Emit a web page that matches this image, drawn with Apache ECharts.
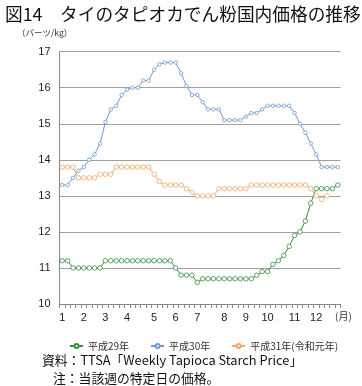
<!DOCTYPE html>
<html>
<head>
<meta charset="utf-8">
<script src="https://cdn.jsdelivr.net/npm/echarts@6/dist/echarts.min.js"></script>
<style>
html,body{margin:0;padding:0;background:#fff;}
#c{width:362px;height:386px;}
</style>
</head>
<body>
<div id="c"></div>
<script>
// weekly categories (52 weeks)
const weeks = Array.from({length: 52}, (_, i) => 'W' + (i + 1));
// week index where each month label is shown
const monthWeekIdx = [0, 4, 8, 12, 17, 21, 25, 30, 34, 38, 43, 47];
const monthLabels = ['1','2','3','4','5','6','7','8','9','10','11','12'];
const yTicks = [10, 11, 12, 13, 14, 15, 16, 17];

const h29 = [11.2,11.2,11.0,11.0,11.0,11.0,11.0,11.0,
  11.2,11.2,11.2,11.2,11.2,11.2,11.2,11.2,11.2,11.2,11.2,11.2,11.2,
  11.0,10.8,10.8,10.8,10.6,
  10.7,10.7,10.7,10.7,10.7,10.7,10.7,10.7,10.7,10.7,
  10.8,10.9,10.9,11.1,11.2,11.35,11.6,11.9,12.0,12.3,12.8,13.2,13.2,13.2,13.2,13.3];
const h30 = [13.3,13.3,13.5,13.7,13.8,14.0,14.15,14.45,15.05,15.4,15.5,15.8,15.95,16.0,16.0,16.2,16.2,16.5,16.65,16.7,
  16.7,16.7,16.4,16.05,15.8,15.8,15.6,15.4,15.4,15.4,15.1,15.1,15.1,15.1,15.2,15.3,15.3,15.4,15.5,15.5,15.5,15.5,15.5,15.3,15.0,14.75,14.45,14.15,13.8,13.8,13.8,13.8];
const h31 = [13.8,13.8,13.8,13.5,13.5,13.5,13.5,13.6,13.6,13.6,
  13.8,13.8,13.8,13.8,13.8,13.8,13.8,13.6,13.4,
  13.3,13.3,13.3,13.3,13.2,13.1,13.0,13.0,13.0,13.0,
  13.2,13.2,13.2,13.2,13.2,13.2,
  13.3,13.3,13.3,13.3,13.3,13.3,13.3,13.3,13.3,13.3,13.3,
  13.2,13.0,12.9,13.0];
const seriesNames = ['平成29年', '平成30年', '平成31年(令和元年)'];

const chart = echarts.init(document.getElementById('c'), null, {renderer: 'canvas'});
const jp = '"Noto Sans CJK JP", "Noto Sans", sans-serif';
const num = '"Liberation Sans", Arial, sans-serif';
const GREEN = '#37913f', BLUE = '#7099d4', ORANGE = '#f0a868';

function lineSeries(name, data, color, size) {
  return {
    name: name, type: 'line', data: data,
    symbol: 'circle', symbolSize: size, showAllSymbol: true,
    lineStyle: {color: color, width: 1},
    itemStyle: {color: '#fff', borderColor: color, borderWidth: 0.8},
    emphasis: {disabled: true}, animation: false
  };
}

chart.setOption({
  animation: false,
  backgroundColor: '#fff',
  title: {
    text: '図14　タイのタピオカでん粉国内価格の推移',
    left: 0, top: 0,
    textStyle: {fontFamily: jp, fontSize: 17.7, fontWeight: 'normal', color: '#111'}
  },
  grid: {left: 59.5, right: 21.5, top: 51.7, bottom: 82, containLabel: false},
  legend: {
    data: seriesNames,
    left: 64, top: 336,
    itemWidth: 13, itemHeight: 5, itemGap: 21,
    textStyle: {fontFamily: jp, fontSize: 10, color: '#333'},
    selectedMode: false
  },
  xAxis: {
    type: 'category', data: weeks, boundaryGap: true,
    axisLine: {lineStyle: {color: '#888', width: 1}},
    axisTick: {show: true, interval: 0, length: 4, lineStyle: {color: '#888'}},
    axisLabel: {
      interval: (i) => monthWeekIdx.indexOf(i) >= 0,
      formatter: (v, i) => { const k = monthWeekIdx.indexOf(i); return k >= 0 ? monthLabels[k] : ''; },
      fontFamily: num, fontSize: 11, color: '#222', margin: 8
    },
    splitLine: {show: false}
  },
  yAxis: {
    type: 'value', min: yTicks[0], max: yTicks[yTicks.length - 1], interval: 1,
    axisLine: {show: true, lineStyle: {color: '#888'}},
    axisTick: {show: false},
    axisLabel: {fontFamily: num, fontSize: 11, color: '#222', margin: 9},
    splitLine: {lineStyle: {color: '#a0a0a0', width: 1}}
  },
  graphic: [
    {type: 'text', left: 17, top: 29, style: {text: '（バーツ/kg）', font: '8.5px ' + jp, fill: '#333'}},
    {type: 'text', left: 335, top: 311, style: {text: '(月)', font: '10px ' + jp, fill: '#333'}},
    {type: 'text', left: 42, top: 354, style: {text: '資料：TTSA「Weekly Tapioca Starch Price」', font: '12.8px ' + jp, fill: '#111'}},
    {type: 'text', left: 53, top: 372, style: {text: '注：当該週の特定日の価格。', font: '12.8px ' + jp, fill: '#111'}}
  ],
  series: [
    lineSeries(seriesNames[0], h29, GREEN, 4.5),
    lineSeries(seriesNames[1], h30, BLUE, 3.5),
    lineSeries(seriesNames[2], h31, ORANGE, 4.5)
  ]
});
</script>
</body>
</html>
